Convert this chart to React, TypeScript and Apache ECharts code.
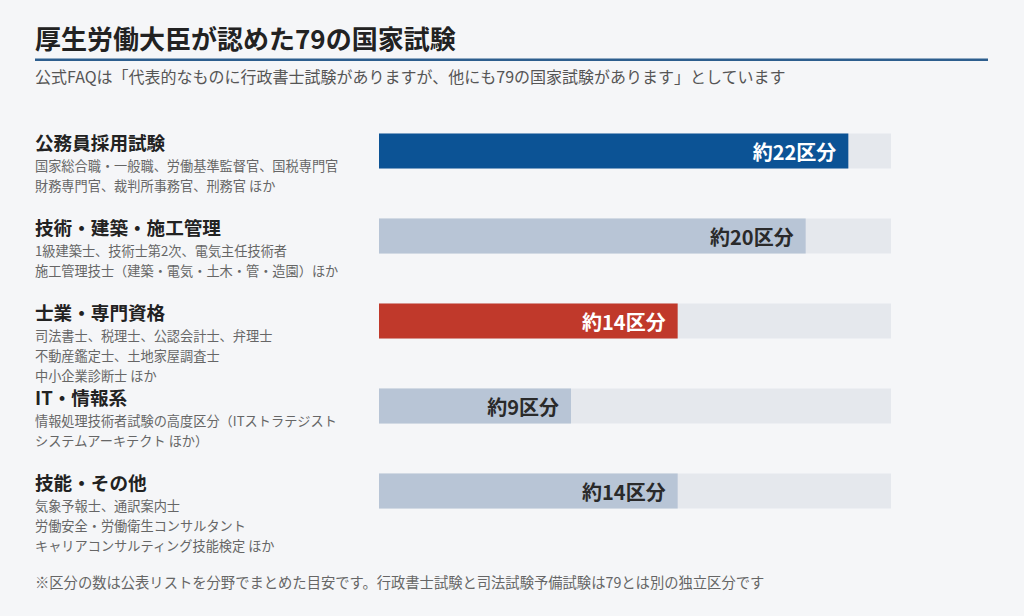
import React, { useEffect, useRef } from "react";
import * as echarts from "echarts";

const categories = ["公務員採用試験", "技術・建築・施工管理", "士業・専門資格", "IT・情報系", "技能・その他"];
const values = [22, 20, 14, 9, 14];
const valueLabels = ["約22区分", "約20区分", "約14区分", "約9区分", "約14区分"];
const details = [
  ["国家総合職・一般職、労働基準監督官、国税専門官", "財務専門官、裁判所事務官、刑務官 ほか"],
  ["1級建築士、技術士第2次、電気主任技術者", "施工管理技士（建築・電気・土木・管・造園）ほか"],
  ["司法書士、税理士、公認会計士、弁理士", "不動産鑑定士、土地家屋調査士", "中小企業診断士 ほか"],
  ["情報処理技術者試験の高度区分（ITストラテジスト", "システムアーキテクト ほか）"],
  ["気象予報士、通訳案内士", "労働安全・労働衛生コンサルタント", "キャリアコンサルティング技能検定 ほか"],
];
const barColors = ["#0c5395", "#b8c5d6", "#c0392b", "#b8c5d6", "#b8c5d6"];
const labelColors = ["#ffffff", "#2a2a2a", "#ffffff", "#2a2a2a", "#2a2a2a"];
const axisMax = 24;

const titleText = "厚生労働大臣が認めた79の国家試験";
const subtitleText = "公式FAQは「代表的なものに行政書士試験がありますが、他にも79の国家試験があります」としています";
const footnoteText = "※区分の数は公表リストを分野でまとめた目安です。行政書士試験と司法試験予備試験は79とは別の独立区分です";

const FONT = '"Noto Sans CJK JP", "Noto Sans", sans-serif';

export default function App() {
  const ref = useRef<HTMLDivElement>(null);
  useEffect(() => {
    if (!ref.current) return;
    const chart = echarts.init(ref.current, null, { renderer: "svg" });
    const option: any = {
      animation: false,
      backgroundColor: "#f5f6f8",
      textStyle: { fontFamily: FONT },
      grid: { left: 379, width: 512, top: 108.5, height: 425 },
      xAxis: { type: "value", min: 0, max: axisMax, show: false },
      yAxis: {
        type: "category",
        data: categories,
        inverse: true,
        axisLine: { show: false },
        axisTick: { show: false },
        axisLabel: { show: false },
        splitLine: { show: false },
      },
      series: [
        {
          type: "bar",
          barWidth: 35,
          showBackground: true,
          backgroundStyle: { color: "#e5e8ed" },
          data: values.map((v, i) => ({
            value: v,
            itemStyle: { color: barColors[i] },
            label: {
              show: true,
              position: "insideRight",
              distance: 12,
              formatter: valueLabels[i],
              color: labelColors[i],
              fontSize: 20,
              fontWeight: "bold",
              fontFamily: FONT,
            },
          })),
        },
      ],
      graphic: [
        {
          type: "text",
          left: 35,
          top: 24,
          style: { text: titleText, fontSize: 26, fontWeight: "bold", fill: "#222", fontFamily: FONT },
        },
        {
          type: "rect",
          shape: { x: 35, y: 58.5, width: 953, height: 2.5 },
          style: { fill: "#2d5e8e" },
        },
        {
          type: "text",
          left: 35,
          top: 68,
          style: { text: subtitleText, fontSize: 16, fill: "#555", fontFamily: FONT },
        },
        {
          type: "text",
          left: 35,
          top: 574,
          style: { text: footnoteText, fontSize: 14.3, fill: "#666", fontFamily: FONT },
        },
      ],
    };
    chart.setOption(option);

    const extra: any[] = [];
    categories.forEach((c, i) => {
      const y = chart.convertToPixel({ yAxisIndex: 0 }, c) as number;
      extra.push({
        type: "text",
        x: 35,
        y: y - 10,
        style: {
          text: c,
          fontSize: 18.6,
          fontWeight: "bold",
          fill: "#222",
          fontFamily: FONT,
          verticalAlign: "middle",
          align: "left",
        },
      });
      details[i].forEach((d, k) => {
        extra.push({
          type: "text",
          x: 35,
          y: y + 14 + 20 * k,
          style: {
            text: d,
            fontSize: 13.2,
            fill: "#666",
            fontFamily: FONT,
            verticalAlign: "middle",
            align: "left",
          },
        });
      });
    });
    chart.setOption({ graphic: [...option.graphic, ...extra] });

    return () => chart.dispose();
  }, []);
  return (
    <div
      ref={ref}
      style={{ position: "fixed", left: 0, top: 0, width: 1024, height: 616 }}
    />
  );
}
